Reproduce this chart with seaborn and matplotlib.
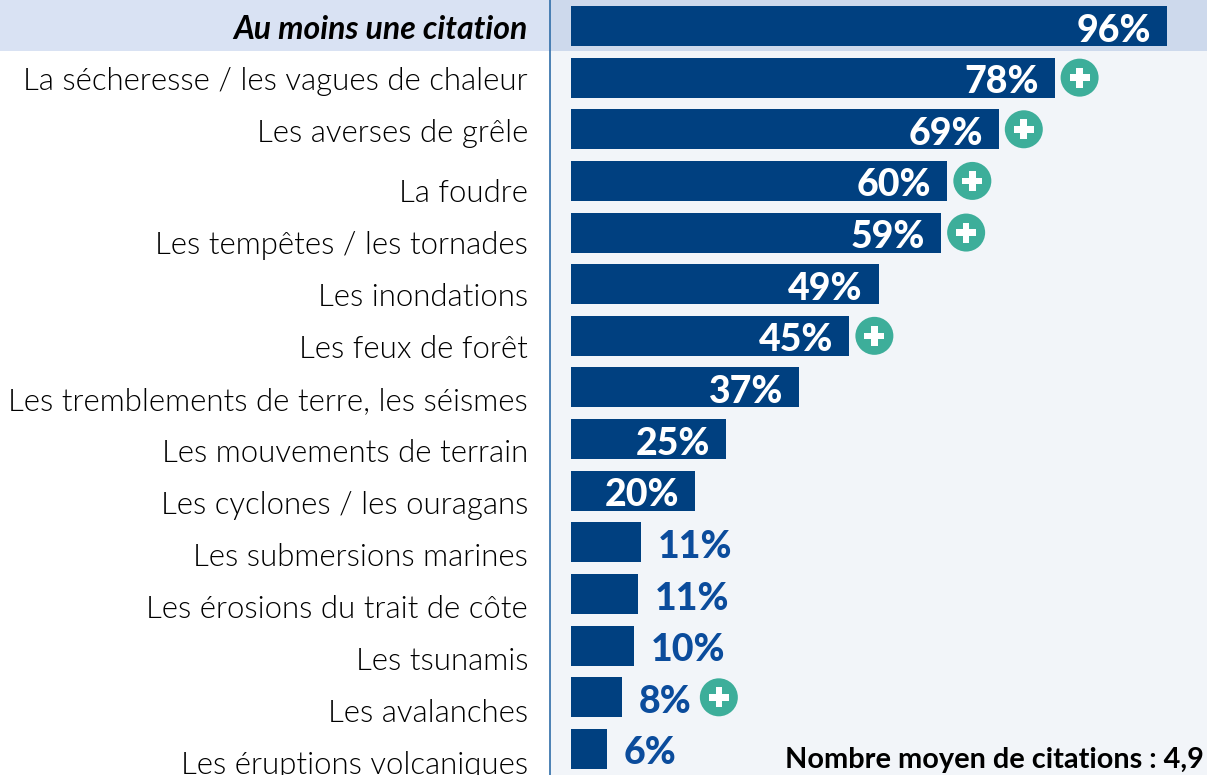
import pandas as pd
import seaborn as sns
import matplotlib.pyplot as plt
from matplotlib.patches import Rectangle
from matplotlib.transforms import ScaledTranslation

categories = [
    'Au moins une citation',
    'La sécheresse / les vagues de chaleur',
    'Les averses de grêle',
    'La foudre',
    'Les tempêtes / les tornades',
    'Les inondations',
    'Les feux de forêt',
    'Les tremblements de terre, les séismes',
    'Les mouvements de terrain',
    'Les cyclones / les ouragans',
    'Les submersions marines',
    'Les érosions du trait de côte',
    'Les tsunamis',
    'Les avalanches',
    'Les éruptions volcaniques',
]
bar_values = [96.2, 78, 69, 60.7, 59.7, 49.6, 44.9, 36.8, 25, 20, 11.3, 10.8, 10.2, 8.2, 5.8]
value_labels = ['96%', '78%', '69%', '60%', '59%', '49%', '45%', '37%', '25%', '20%', '11%', '11%', '10%', '8%', '6%']
has_plus = [False, True, True, True, True, False, True, False, False, False, False, False, False, True, False]

BLUE = '#004080'
LABEL_BLUE = '#0B4C9C'
TEAL = '#3DAE9A'
FONT = 'Lato'

W, H = 1207, 775
PX_PER_UNIT = 6.2
ROW = 51.64
pt = 72 / 100  # pixels to points

sns.set_theme(style='white')
plt.rcParams['font.family'] = [FONT, 'DejaVu Sans']

df = pd.DataFrame({'categorie': categories, 'valeur': bar_values})

fig = plt.figure(figsize=(W / 100, H / 100), dpi=100, facecolor='white')
# bande claire derriere la premiere ligne, cote libelles
fig.add_artist(Rectangle((0, 1 - 51 / H), 550 / W, 51 / H, transform=fig.transFigure,
                         facecolor='#D9E2F3', edgecolor='none', zorder=0))

ax = fig.add_axes([550 / W, 0, (W - 550) / W, 1])
ax.set_facecolor('#F2F5F9')
sns.barplot(data=df, x='valeur', y='categorie', orient='h', color=BLUE, saturation=1,
            width=40 / ROW, ax=ax, zorder=3, edgecolor='none', linewidth=0)

y_top = -26 / ROW
y_bottom = (H - 26) / ROW
ax.set_ylim(y_bottom, y_top)
ax.set_xlim(-21 / PX_PER_UNIT, (W - 571) / PX_PER_UNIT)
ax.axhspan(y_top, 25 / ROW, facecolor='#CDD9EC', edgecolor='none', zorder=1)

ax.set_xlabel('')
ax.set_ylabel('')
ax.set_xticks([])
for side in ['top', 'right', 'bottom']:
    ax.spines[side].set_visible(False)
ax.spines['left'].set_color('#2F6DA8')
ax.spines['left'].set_linewidth(1.2)

# libelles : decales vers le bas a partir de "La foudre"
ax.tick_params(axis='y', length=0, pad=22 * pt)
for i, tick in enumerate(ax.yaxis.get_major_ticks()):
    lab = tick.label1
    lab.set_fontsize(22.4)
    lab.set_fontweight(300)
    lab.set_color('#000000')
    shift = 1 if i < 3 else 10 + (i - 3) * 0.36
    lab.set_transform(lab.get_transform() + ScaledTranslation(0, -shift / 100, fig.dpi_scale_trans))
    if i == 0:
        lab.set_fontweight('bold')
        lab.set_fontstyle('italic')
        lab.set_fontsize(23)

for i, (val, txt) in enumerate(zip(bar_values, value_labels)):
    inside = val > 15
    if inside:
        ax.annotate(txt, (val, i), xytext=(-16 * pt, -4.5 * pt), textcoords='offset points', ha='right',
                    va='center', color='white', fontsize=27, fontweight='black', zorder=4)
    else:
        ax.annotate(txt, (val, i), xytext=(17 * pt, -4.5 * pt), textcoords='offset points', ha='left',
                    va='center', color=LABEL_BLUE, fontsize=27, fontweight='black', zorder=4)
    if has_plus[i]:
        xp = val + (25 if inside else 97) / PX_PER_UNIT
        ax.scatter([xp], [i], s=(38 * pt) ** 2, color=TEAL, edgecolor='none', zorder=4)
        ax.scatter([xp], [i], s=(20 * pt) ** 2, marker='P', color='white', edgecolor='none', zorder=5)

fig.text(1204 / W, 1 - 760 / H, 'Nombre moyen de citations : 4,9', ha='right', va='center',
         fontsize=20.8, fontweight='bold', color='black')

fig.savefig('out.png', dpi=100)
